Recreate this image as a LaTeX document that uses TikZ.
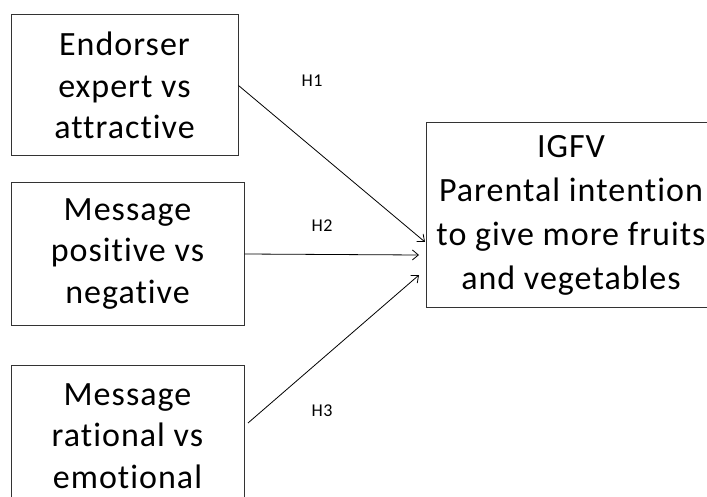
\documentclass[tikz,border=0pt]{standalone}
\usepackage{fontspec}
\setmainfont{Carlito}[LetterSpace=3,Ligatures={NoCommon}]
\usetikzlibrary{positioning,arrows.meta}

\begin{document}
\begin{tikzpicture}[x=1pt,y=1pt,
  box/.style={draw=black!80,line width=1pt,align=center,inner sep=0pt,
    font=\fontsize{34}{41.5}\selectfont},
  ar/.style={-{Straight Barb[length=6pt,width=10pt]},line width=0.8pt},
  hyp/.style={font=\fontsize{18}{20}\selectfont}]
\useasboundingbox (0,0) rectangle (707,-497);
\clip (0,0) rectangle (707,-497);
\node[box,minimum width=227,minimum height=141] (endorser) at (124.5,-85.5)
  {Endorser\\expert vs\\attractive};
\node[box,minimum width=233,minimum height=142] (valence) at (127.5,-254)
  {Message\\positive vs\\negative};
\node[box,minimum width=233,minimum height=142] (appeal) at (127.5,-436)
  {Message\\rational vs\\emotional};
\node[box,minimum width=290,minimum height=184,
  font=\fontsize{34}{44}\selectfont] (igfv) at (571,-215)
  {IGFV\\Parental intention\\to give more fruits\\and vegetables};
\coordinate (t1) at (425,-242);
\coordinate (t2) at (419,-255);
\coordinate (t3) at (419,-275);
\coordinate (s3) at (248,-423);
\draw[ar] (endorser.east)--(t1);
\draw[ar] (valence.east)--(t2);
\draw[ar] (s3)--(t3);
\node[hyp] (h1) at (312,-81) {H1};
\node[hyp] (h2) at (322,-226) {H2};
\node[hyp] (h3) at (322,-411) {H3};
\end{tikzpicture}
\end{document}
